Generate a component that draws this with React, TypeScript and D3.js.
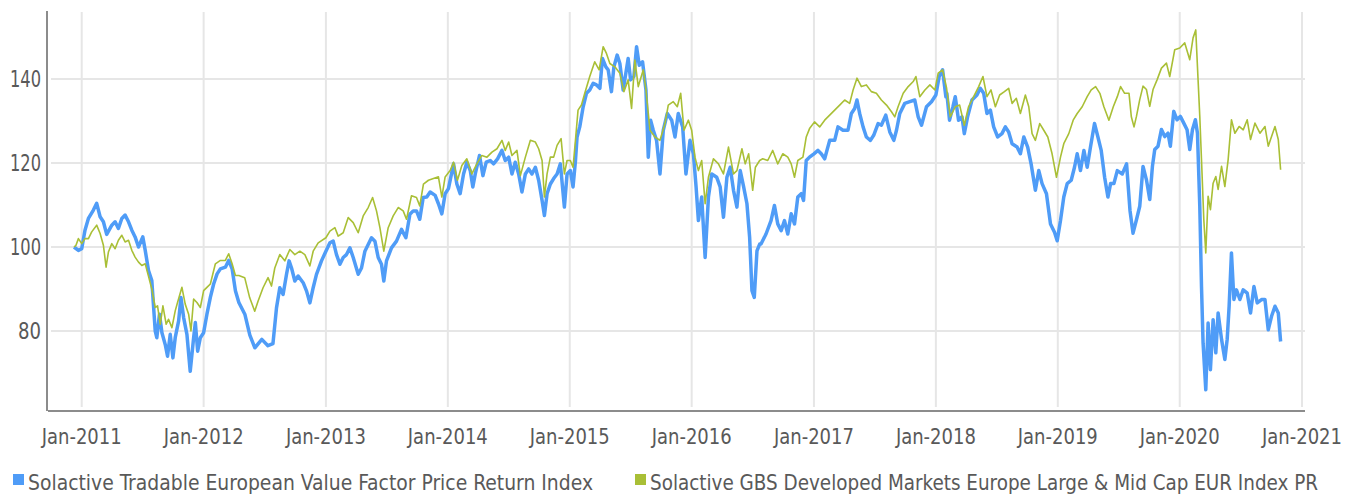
import { line, scaleLinear, scaleTime } from 'd3'

// [decimal year, index level]
const valueFactor: [number, number][] = [
  [2010.937, 100], [2010.973, 99.2], [2011.0, 99.6], [2011.027, 104], [2011.055, 106.8], [2011.096, 108.8],
  [2011.123, 110.4], [2011.151, 107.2], [2011.178, 106], [2011.205, 103], [2011.247, 105.2], [2011.274, 106],
  [2011.301, 104.4], [2011.329, 106.8], [2011.356, 107.6], [2011.384, 106], [2011.411, 104], [2011.438, 102.4],
  [2011.466, 100], [2011.501, 102.4], [2011.521, 99.2], [2011.548, 94.4], [2011.575, 92], [2011.603, 80],
  [2011.616, 78.4], [2011.638, 84], [2011.658, 79.6], [2011.685, 76.8], [2011.704, 74], [2011.726, 79.2],
  [2011.748, 73.6], [2011.767, 78.4], [2011.795, 82.4], [2011.814, 88], [2011.836, 83.2], [2011.863, 79.2],
  [2011.89, 70.4], [2011.918, 78.4], [2011.932, 82], [2011.951, 75.2], [2011.973, 78.4], [2012.0, 79.6],
  [2012.027, 84], [2012.055, 88], [2012.082, 91.2], [2012.11, 93.6], [2012.137, 94.8], [2012.178, 95.2],
  [2012.205, 96.8], [2012.233, 94.8], [2012.26, 89.6], [2012.288, 86.8], [2012.337, 84], [2012.378, 79],
  [2012.419, 76], [2012.476, 78], [2012.526, 76.5], [2012.567, 77], [2012.596, 85.5], [2012.623, 90.3],
  [2012.65, 88.7], [2012.678, 93.5], [2012.699, 96.7], [2012.719, 95], [2012.746, 91.9], [2012.773, 93.1],
  [2012.814, 91.5], [2012.842, 89.5], [2012.869, 86.7], [2012.896, 90.3], [2012.923, 93.5], [2012.964, 96.7],
  [2013.0, 99], [2013.033, 101], [2013.06, 101.4], [2013.087, 98.2], [2013.115, 95.9], [2013.142, 97.5],
  [2013.169, 98.2], [2013.197, 99.8], [2013.224, 97.5], [2013.265, 93.5], [2013.292, 95], [2013.32, 99],
  [2013.347, 100.6], [2013.374, 102.2], [2013.402, 101.4], [2013.429, 97.5], [2013.456, 95.9], [2013.475, 91.9],
  [2013.497, 96.7], [2013.538, 99.8], [2013.579, 101.4], [2013.62, 104.2], [2013.656, 102.2], [2013.689, 107.8],
  [2013.716, 108.6], [2013.743, 108.6], [2013.77, 106.6], [2013.798, 111.8], [2013.827, 111.9], [2013.855, 113.1],
  [2013.896, 112.3], [2013.923, 110.3], [2013.951, 107.9], [2013.978, 112.7], [2014.005, 113.9], [2014.047, 119.8],
  [2014.074, 115], [2014.101, 112.7], [2014.129, 117.4], [2014.156, 120.2], [2014.184, 118.2], [2014.205, 114.3],
  [2014.225, 117.4], [2014.26, 121.8], [2014.288, 117], [2014.315, 120.2], [2014.348, 120.6], [2014.375, 119.8],
  [2014.408, 121], [2014.444, 123], [2014.471, 120.6], [2014.499, 121.4], [2014.526, 117.4], [2014.553, 120.2],
  [2014.581, 117.4], [2014.608, 113.1], [2014.636, 117.4], [2014.663, 118.6], [2014.69, 117.4], [2014.718, 119],
  [2014.745, 115.9], [2014.773, 111.1], [2014.792, 107.5], [2014.814, 112.7], [2014.841, 115], [2014.868, 116.3],
  [2014.896, 117.4], [2014.923, 119.8], [2014.956, 109.5], [2014.978, 117.4], [2015.005, 118.2], [2015.027, 114.3],
  [2015.047, 120.6], [2015.06, 126.2], [2015.082, 128.6], [2015.11, 133.4], [2015.137, 136.6], [2015.164, 137.4],
  [2015.192, 139], [2015.219, 138.6], [2015.247, 137.8], [2015.268, 144.9], [2015.296, 142.9], [2015.315, 142.2],
  [2015.342, 137], [2015.362, 142.9], [2015.389, 145.7], [2015.411, 143.7], [2015.438, 137.4], [2015.46, 141.4],
  [2015.479, 144.9], [2015.499, 139.8], [2015.526, 140.6], [2015.548, 147.7], [2015.57, 143.3], [2015.597, 144.1],
  [2015.625, 137.4], [2015.644, 121.4], [2015.663, 130.2], [2015.685, 127.8], [2015.712, 125.4], [2015.74, 117.4],
  [2015.767, 127.8], [2015.8, 131.8], [2015.836, 130.2], [2015.863, 126.2], [2015.89, 131.8], [2015.926, 128.6],
  [2015.953, 117.4], [2015.986, 125.4], [2016.014, 122.2], [2016.036, 114.3], [2016.055, 106.3], [2016.082, 111.9],
  [2016.11, 97.5], [2016.137, 111.9], [2016.164, 117.4], [2016.205, 116.6], [2016.233, 114.3], [2016.26, 107.1],
  [2016.288, 116.6], [2016.315, 119], [2016.342, 113.5], [2016.37, 109.5], [2016.397, 118.2], [2016.425, 114.3],
  [2016.452, 110.3], [2016.474, 102.3], [2016.493, 89.6], [2016.512, 88], [2016.534, 99.1], [2016.556, 100.7],
  [2016.567, 100.7], [2016.608, 103.1], [2016.649, 106.3], [2016.677, 109.9], [2016.704, 105.5], [2016.732, 103.9],
  [2016.759, 106.3], [2016.786, 103.1], [2016.814, 107.9], [2016.841, 105.5], [2016.868, 111.9], [2016.896, 112.7],
  [2016.915, 111.1], [2016.937, 120.6], [2016.964, 121.4], [2017.0, 122.2], [2017.033, 123], [2017.06, 122.2],
  [2017.088, 121], [2017.129, 125.4], [2017.17, 125.4], [2017.197, 128.6], [2017.238, 127.8], [2017.279, 127.8],
  [2017.307, 131.8], [2017.334, 133], [2017.353, 135], [2017.375, 131.8], [2017.403, 128.6], [2017.43, 126.2],
  [2017.463, 125.4], [2017.49, 126.6], [2017.526, 129.4], [2017.553, 129], [2017.589, 131.4], [2017.622, 127.4],
  [2017.655, 125.4], [2017.677, 127.8], [2017.704, 131.8], [2017.745, 134.2], [2017.786, 134.6], [2017.827, 135],
  [2017.855, 131], [2017.882, 129], [2017.923, 133.4], [2017.964, 134.6], [2018.0, 136.2], [2018.027, 140.6],
  [2018.055, 142.2], [2018.082, 135.8], [2018.09, 136.6], [2018.112, 130.2], [2018.14, 133.4], [2018.159, 135.8],
  [2018.186, 130.2], [2018.214, 131], [2018.233, 127], [2018.26, 131], [2018.296, 135], [2018.337, 136.2],
  [2018.364, 137.8], [2018.392, 136.6], [2018.419, 131.8], [2018.447, 132.6], [2018.474, 128.6], [2018.507, 126.2],
  [2018.542, 127], [2018.57, 128.6], [2018.597, 127.4], [2018.625, 124.6], [2018.666, 123.8], [2018.693, 122.2],
  [2018.721, 126.2], [2018.753, 123.8], [2018.781, 119.8], [2018.816, 113.5], [2018.844, 118.2], [2018.871, 115.1],
  [2018.907, 112.7], [2018.94, 105.5], [2018.973, 103.5], [2018.995, 101.5], [2019.022, 106.3], [2019.049, 111.9],
  [2019.077, 115.1], [2019.11, 115.9], [2019.137, 119], [2019.159, 122.2], [2019.186, 118.2], [2019.214, 123],
  [2019.241, 119], [2019.268, 123.8], [2019.301, 129.4], [2019.329, 126.2], [2019.356, 123], [2019.384, 116.6],
  [2019.411, 111.9], [2019.433, 115.1], [2019.46, 115.1], [2019.488, 118.2], [2019.529, 117.4], [2019.564, 119.8],
  [2019.592, 108.7], [2019.617, 103.3], [2019.645, 106.5], [2019.672, 109.7], [2019.699, 119.2], [2019.727, 116],
  [2019.754, 111.3], [2019.776, 119.2], [2019.795, 123.2], [2019.822, 124], [2019.85, 128], [2019.877, 126.3],
  [2019.904, 127.1], [2019.923, 124], [2019.951, 132.3], [2019.978, 130.3], [2020.005, 131.1], [2020.033, 129.5],
  [2020.06, 127.9], [2020.082, 123.2], [2020.104, 127.9], [2020.128, 130.3], [2020.145, 127.1], [2020.164, 109.7],
  [2020.178, 90.6], [2020.191, 77.1], [2020.213, 66], [2020.232, 81.9], [2020.251, 70.8], [2020.273, 82.7],
  [2020.295, 74.8], [2020.314, 84.3], [2020.342, 78], [2020.369, 73.2], [2020.388, 78], [2020.404, 85.9],
  [2020.423, 98.6], [2020.443, 87.5], [2020.464, 89.8], [2020.492, 87.5], [2020.519, 89.8], [2020.552, 89],
  [2020.579, 84.3], [2020.607, 90.6], [2020.634, 86.7], [2020.669, 87.5], [2020.697, 87.5], [2020.724, 80.3],
  [2020.751, 83.5], [2020.779, 85.9], [2020.806, 84.3], [2020.825, 77.5],
]

const gbsEurope: [number, number][] = [
  [2010.937, 100], [2010.953, 100.4], [2010.973, 102], [2011.0, 100.8], [2011.027, 102], [2011.055, 102],
  [2011.082, 103.6], [2011.123, 105.2], [2011.151, 103.2], [2011.178, 100.4], [2011.2, 95.2], [2011.219, 98.8],
  [2011.247, 100.8], [2011.274, 99.6], [2011.301, 101.6], [2011.329, 102.8], [2011.356, 101.2], [2011.384, 101.6],
  [2011.411, 99.2], [2011.438, 97.6], [2011.466, 96.4], [2011.493, 95.6], [2011.521, 96], [2011.548, 93],
  [2011.575, 90], [2011.603, 85.6], [2011.622, 86], [2011.644, 81.6], [2011.666, 86], [2011.693, 81.6],
  [2011.712, 82.8], [2011.74, 80.8], [2011.767, 84.8], [2011.786, 86.8], [2011.822, 90.4], [2011.849, 86.4],
  [2011.877, 84], [2011.896, 80], [2011.918, 87.6], [2011.945, 86.8], [2011.973, 85.6], [2012.0, 89.6],
  [2012.027, 90.4], [2012.055, 91.2], [2012.096, 96], [2012.137, 96.8], [2012.178, 96.8], [2012.205, 98.4],
  [2012.233, 96], [2012.26, 93.2], [2012.288, 93.2], [2012.336, 92.7], [2012.377, 87.9], [2012.418, 84.7],
  [2012.445, 87.1], [2012.486, 90.3], [2012.527, 92.7], [2012.555, 90.7], [2012.582, 95], [2012.623, 98.2],
  [2012.664, 96.7], [2012.705, 99.4], [2012.746, 98.2], [2012.787, 99], [2012.828, 98.2], [2012.869, 95.5],
  [2012.896, 99], [2012.937, 101], [2013.0, 102.2], [2013.033, 103.8], [2013.074, 104.6], [2013.101, 102.6],
  [2013.142, 103.4], [2013.183, 107], [2013.224, 105.8], [2013.265, 103.4], [2013.306, 107.4], [2013.347, 109.4],
  [2013.383, 111.8], [2013.415, 108.6], [2013.443, 104.6], [2013.475, 99], [2013.511, 104.6], [2013.552, 107.4],
  [2013.593, 109.4], [2013.634, 108.6], [2013.661, 106.6], [2013.702, 112.2], [2013.743, 111.8], [2013.77, 109.8],
  [2013.8, 115], [2013.841, 115.9], [2013.882, 116.3], [2013.923, 116.7], [2013.951, 111.9], [2013.978, 116.7],
  [2014.019, 118.2], [2014.047, 120.2], [2014.079, 115.9], [2014.115, 119.4], [2014.156, 121], [2014.197, 117.4],
  [2014.238, 119.8], [2014.279, 121.8], [2014.321, 121.4], [2014.362, 122.6], [2014.403, 123.4], [2014.444, 125.4],
  [2014.471, 123], [2014.499, 125], [2014.526, 121.8], [2014.567, 123], [2014.595, 117], [2014.636, 121.4],
  [2014.677, 125.4], [2014.718, 125], [2014.745, 123.4], [2014.773, 120.6], [2014.792, 111.9], [2014.814, 117.4],
  [2014.841, 121.4], [2014.868, 121.4], [2014.896, 124.2], [2014.929, 125.8], [2014.956, 117.4], [2014.978, 120.6],
  [2015.005, 120.6], [2015.027, 119], [2015.049, 126.2], [2015.068, 132.6], [2015.096, 133.8], [2015.123, 136.6],
  [2015.164, 140.6], [2015.205, 144.1], [2015.241, 142.2], [2015.274, 147.7], [2015.301, 146.1], [2015.329, 143.7],
  [2015.37, 142.9], [2015.411, 141.4], [2015.444, 137], [2015.479, 139.8], [2015.507, 133], [2015.534, 144.5],
  [2015.562, 138.2], [2015.603, 142.2], [2015.625, 137.4], [2015.658, 127.8], [2015.699, 126.2], [2015.74, 125.4],
  [2015.781, 129.4], [2015.808, 133.8], [2015.849, 134.6], [2015.882, 133.4], [2015.91, 136.6], [2015.937, 127.8],
  [2015.973, 130.2], [2016.0, 127.8], [2016.027, 121.4], [2016.055, 118.2], [2016.082, 120.6], [2016.11, 110.3],
  [2016.137, 116.6], [2016.178, 121], [2016.219, 119.8], [2016.26, 117.4], [2016.301, 123.8], [2016.342, 117.4],
  [2016.37, 118.2], [2016.411, 123.4], [2016.438, 119.8], [2016.466, 122.2], [2016.499, 113.5], [2016.521, 119],
  [2016.556, 120.6], [2016.581, 121], [2016.622, 120.6], [2016.663, 123], [2016.704, 119.8], [2016.745, 122.2],
  [2016.786, 121.4], [2016.814, 119.8], [2016.841, 116.6], [2016.868, 120.6], [2016.91, 121.4], [2016.937, 126.2],
  [2016.964, 128.2], [2017.005, 129.8], [2017.047, 128.6], [2017.088, 130.2], [2017.129, 131.4], [2017.17, 132.6],
  [2017.211, 133.8], [2017.252, 135], [2017.293, 134.2], [2017.321, 137.4], [2017.353, 140.2], [2017.389, 138.2],
  [2017.43, 138.6], [2017.471, 137], [2017.512, 136.6], [2017.553, 135], [2017.595, 133.8], [2017.636, 132.2],
  [2017.663, 131], [2017.69, 133.4], [2017.732, 136.6], [2017.773, 138.2], [2017.814, 139.4], [2017.836, 140.6],
  [2017.868, 135.8], [2017.91, 137.4], [2017.951, 138.6], [2017.992, 137.4], [2018.019, 141.4], [2018.055, 142.2],
  [2018.088, 137.8], [2018.118, 131], [2018.159, 133.4], [2018.195, 133.8], [2018.233, 129], [2018.268, 133.4],
  [2018.31, 135.8], [2018.351, 138.2], [2018.386, 140.6], [2018.419, 135.8], [2018.452, 137.4], [2018.488, 133.4],
  [2018.523, 136.2], [2018.562, 137], [2018.597, 137.8], [2018.625, 134.2], [2018.66, 135.4], [2018.693, 131.8],
  [2018.734, 136.2], [2018.762, 133.4], [2018.789, 127], [2018.816, 125.4], [2018.852, 129.4], [2018.885, 127.8],
  [2018.918, 126.2], [2018.953, 122.2], [2018.989, 116.6], [2019.022, 121.4], [2019.049, 124.6], [2019.09, 127],
  [2019.126, 130.2], [2019.159, 131.8], [2019.2, 133.4], [2019.241, 135.8], [2019.274, 137.4], [2019.31, 138.2],
  [2019.345, 136.6], [2019.378, 133.4], [2019.419, 130.2], [2019.455, 133.4], [2019.488, 135.8], [2019.515, 138.2],
  [2019.548, 136.6], [2019.584, 136.6], [2019.603, 131], [2019.625, 128.6], [2019.645, 131.1], [2019.672, 135.1],
  [2019.699, 138.3], [2019.727, 137.5], [2019.754, 133.5], [2019.781, 137.5], [2019.814, 139.8], [2019.85, 142.6],
  [2019.891, 143.8], [2019.918, 140.6], [2019.959, 147], [2020.0, 147.4], [2020.041, 148.6], [2020.082, 144.6],
  [2020.109, 149.8], [2020.131, 151.7], [2020.15, 139.8], [2020.164, 131.1], [2020.178, 120.8], [2020.197, 106.5],
  [2020.213, 98.6], [2020.232, 112.1], [2020.251, 108.9], [2020.273, 115.2], [2020.295, 116.8], [2020.314, 113.7],
  [2020.342, 119.2], [2020.369, 114.4], [2020.396, 120.8], [2020.423, 130.3], [2020.451, 127.1], [2020.486, 128.7],
  [2020.519, 127.9], [2020.552, 130.3], [2020.579, 125.6], [2020.615, 129.5], [2020.656, 127.1], [2020.697, 128.7],
  [2020.724, 124], [2020.751, 126.3], [2020.779, 128.7], [2020.806, 125.6], [2020.825, 118.4],
]

const tickYears = [2011, 2012, 2013, 2014, 2015, 2016, 2017, 2018, 2019, 2020, 2021]
const xTickLabels = tickYears.map(yr => `Jan-${yr}`)
const yTicks = [80, 100, 120, 140]
const seriesNames = [
  'Solactive Tradable European Value Factor Price Return Index',
  'Solactive GBS Developed Markets Europe Large & Mid Cap EUR Index PR',
]
const seriesColors = ['#4f9cf7', '#a9bf36']

const W = 1360
const H = 495
const left = 48
const right = 1305
const top = 11
const bottom = 411
const font = "'DejaVu Sans Condensed', 'DejaVu Sans', sans-serif"
const textColor = '#595959'
const gridColor = '#e6e6e6'

const toDate = (v: number) => {
  const yr = Math.floor(v)
  const a = new Date(yr, 0, 1).getTime()
  const b = new Date(yr + 1, 0, 1).getTime()
  return new Date(a + (v - yr) * (b - a))
}

const xBase = scaleTime()
  .domain([new Date(2011, 0, 1), new Date(2021, 0, 1)])
  .range([81.7, 1302])
const x = scaleTime()
  .domain([xBase.invert(left), xBase.invert(right)])
  .range([left, right])
const y = scaleLinear().domain([60.95, 156.2]).range([bottom, top])

const pathOf = line<[number, number]>()
  .x(d => x(toDate(d[0])))
  .y(d => y(d[1]))

const App = () => {
  return (
    <svg
      width={W}
      height={H}
      style={{ position: 'absolute', left: 0, top: 0, background: '#fff' }}
      fontFamily={font}
    >
      {/* grid */}
      {yTicks.map(t => (
        <line key={'gy' + t} x1={left + 3} x2={right} y1={y(t)} y2={y(t)} stroke={gridColor} strokeWidth={2} />
      ))}
      {tickYears.map(yr => (
        <line
          key={'gx' + yr}
          x1={x(new Date(yr, 0, 1))}
          x2={x(new Date(yr, 0, 1))}
          y1={top + 1}
          y2={bottom - 4}
          stroke={gridColor}
          strokeWidth={2}
        />
      ))}

      {/* series */}
      <path d={pathOf(valueFactor) ?? ''} fill="none" stroke={seriesColors[0]} strokeWidth={3.5} strokeLinejoin="round" />
      <path d={pathOf(gbsEurope) ?? ''} fill="none" stroke={seriesColors[1]} strokeWidth={1.6} strokeLinejoin="round" />

      {/* axes */}
      <line x1={left - 1} x2={left - 1} y1={top} y2={bottom} stroke="#8c8c8c" strokeWidth={2} />
      <line x1={left} x2={right} y1={bottom} y2={bottom} stroke="#8c8c8c" strokeWidth={2} />

      {yTicks.map(t => (
        <text key={'ty' + t} x={41} y={y(t)} dy="0.36em" textAnchor="end" fontSize={23}
          textLength={t < 100 ? 23 : 31} lengthAdjust="spacingAndGlyphs" fill={textColor}>
          {t}
        </text>
      ))}
      {tickYears.map((yr, i) => (
        <text key={'tx' + yr} x={x(new Date(yr, 0, 1))} y={444} textAnchor="middle" fontSize={22}
          textLength={80} lengthAdjust="spacingAndGlyphs" fill={textColor}>
          {xTickLabels[i]}
        </text>
      ))}

      {/* legend */}
      <rect x={13} y={474} width={11} height={11} fill={seriesColors[0]} />
      <text x={28} y={490} fontSize={21} textLength={565} lengthAdjust="spacingAndGlyphs" fill={textColor}>
        {seriesNames[0]}
      </text>
      <rect x={635} y={474} width={11} height={11} fill={seriesColors[1]} />
      <text x={650} y={490} fontSize={21} textLength={668} lengthAdjust="spacingAndGlyphs" fill={textColor}>
        {seriesNames[1]}
      </text>
    </svg>
  )
}

export default App
